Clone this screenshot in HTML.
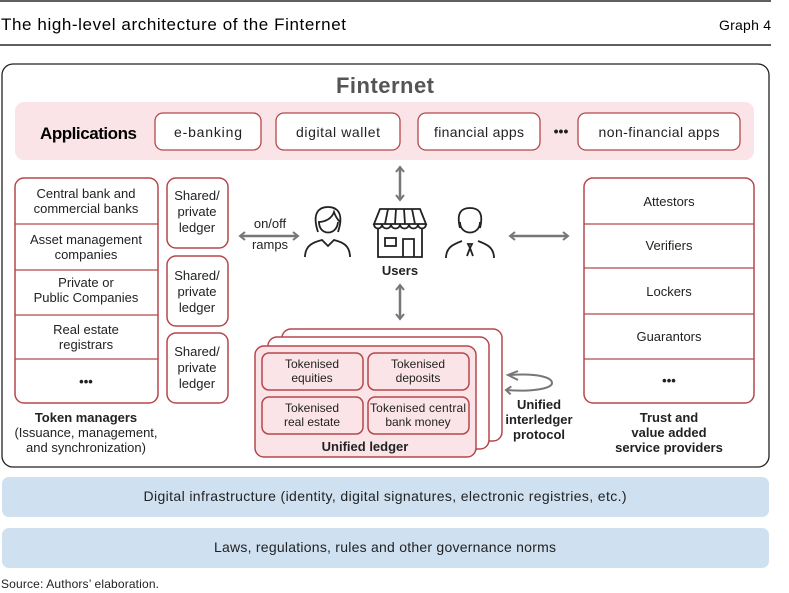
<!DOCTYPE html>
<html><head><meta charset="utf-8"><style>
body{margin:0;background:#fff}
svg{display:block;font-family:"Liberation Sans",sans-serif}
</style></head><body>
<svg width="789" height="593" viewBox="0 0 789 593" xmlns="http://www.w3.org/2000/svg">
<defs>
<marker id="ah" markerWidth="8" markerHeight="10" refX="6" refY="5" orient="auto-start-reverse" markerUnits="userSpaceOnUse">
<path d="M1,1 L6,5 L1,9" fill="none" stroke="#777" stroke-width="2"/>
</marker>
</defs>
<line x1="0" y1="1" x2="771" y2="1" stroke="#000" stroke-width="1.2"/>
<line x1="0" y1="45" x2="771" y2="45" stroke="#000" stroke-width="1.2"/>
<text x="1" y="30" font-size="17" fill="#000" textLength="345">The high-level architecture of the Finternet</text>
<text x="771" y="30" font-size="14" text-anchor="end" textLength="52">Graph 4</text>

<rect x="2" y="64" width="767" height="403" rx="11" fill="#fff" stroke="#222" stroke-width="1.3"/>
<text x="385" y="93" font-size="22" fill="#555" text-anchor="middle" font-weight="bold" textLength="98">Finternet</text>

<rect x="15" y="102" width="739" height="58" rx="9" fill="#fbe4e7"/>
<text x="40" y="139" font-size="17" font-weight="bold" textLength="97">Applications</text>
<g fill="#fff" stroke="#b5474c" stroke-width="1.3">
<rect x="155" y="113" width="106" height="37" rx="8"/>
<rect x="276" y="113" width="124" height="37" rx="8"/>
<rect x="418" y="113" width="122" height="37" rx="8"/>
<rect x="578" y="113" width="162" height="37" rx="8"/>
</g>
<g font-size="14" text-anchor="middle" fill="#222">
<text x="208" y="137" textLength="68">e-banking</text>
<text x="338" y="137" textLength="84">digital wallet</text>
<text x="479" y="137" textLength="90">financial apps</text>
<text x="659" y="137" textLength="121">non-financial apps</text>
<text x="561" y="136" font-weight="bold">•••</text>
</g>

<!-- left stack -->
<rect x="15" y="178" width="143" height="225" rx="9" fill="#fff" stroke="#b5474c" stroke-width="1.5"/>
<g stroke="#b5474c" stroke-width="1.3"><line x1="15" y1="224" x2="158" y2="224"/><line x1="15" y1="270" x2="158" y2="270"/><line x1="15" y1="315" x2="158" y2="315"/><line x1="15" y1="359" x2="158" y2="359"/></g>
<g font-size="13" text-anchor="middle" fill="#222">
<text x="86" y="198">Central bank and</text><text x="86" y="213">commercial banks</text>
<text x="86" y="244">Asset management</text><text x="86" y="259">companies</text>
<text x="86" y="287">Private or</text><text x="86" y="302">Public Companies</text>
<text x="86" y="334">Real estate</text><text x="86" y="349">registrars</text>
<text x="86" y="386" font-weight="bold">•••</text>
<text x="86" y="422" font-weight="bold">Token managers</text>
<text x="86" y="437">(Issuance, management,</text>
<text x="86" y="452">and synchronization)</text>
</g>
<g fill="#fff" stroke="#b5474c" stroke-width="1.5">
<rect x="167" y="178" width="61" height="70" rx="9"/>
<rect x="167" y="256" width="61" height="70" rx="9"/>
<rect x="167" y="333" width="61" height="70" rx="9"/>
</g>
<g font-size="13" text-anchor="middle" fill="#222">
<text x="197" y="200">Shared/</text><text x="197" y="216">private</text><text x="197" y="232">ledger</text>
<text x="197" y="280">Shared/</text><text x="197" y="296">private</text><text x="197" y="312">ledger</text>
<text x="197" y="356">Shared/</text><text x="197" y="372">private</text><text x="197" y="388">ledger</text>
</g>

<!-- arrows -->
<g stroke="#777" stroke-width="2.5" fill="none" marker-start="url(#ah)" marker-end="url(#ah)">
<line x1="240" y1="236" x2="298" y2="236"/>
<line x1="510" y1="236" x2="568" y2="236"/>
<line x1="400" y1="167" x2="400" y2="200"/>
<line x1="400" y1="285" x2="400" y2="319"/>
</g>
<g font-size="13" text-anchor="middle" fill="#222">
<text x="270" y="228">on/off</text><text x="270" y="249">ramps</text>
<text x="400" y="275" font-weight="bold">Users</text>
</g>

<!-- woman -->
<g fill="none" stroke="#222" stroke-width="1.8">
<path d="M318,232 C312,214 318,207 328,207 C338,207 344,214 338,232"/>
<path d="M318,222 C326,222 332,218 334,212 C336,218 339,221 340,222"/>
<path d="M319,222 C319,236 337,236 338,222"/>
<path d="M305,257 C305,245 314,242 322,240 L328,246 L334,240 C342,242 350,245 350,257"/>
</g>
<!-- shop -->
<g fill="none" stroke="#222" stroke-width="1.8">
<path d="M380,209 L420,209 L426,224 L374,224 Z"/>
<path d="M374,224 C374,230 382,230 382,224 C382,230 391,230 391,224 C391,230 400,230 400,224 C400,230 409,230 409,224 C409,230 418,230 418,224 C418,230 426,230 426,224"/>
<path d="M388,209 L385,224 M396,209 L395,224 M404,209 L405,224 M412,209 L415,224"/>
<path d="M378,229 L378,257 L422,257 L422,229"/>
<rect x="385" y="238" width="11" height="8"/>
<path d="M403,257 L403,239 L414,239 L414,257"/>
</g>
<!-- man -->
<g fill="none" stroke="#222" stroke-width="1.8">
<path d="M460,228 C456,212 462,208 470,208 C478,208 484,212 480,228"/>
<path d="M460,222 C460,236 480,236 480,222"/>
<path d="M446,258 C446,247 454,244 462,241 M494,258 C494,247 486,244 478,241"/>
<path d="M468,244 L472,244 L470,248 Z M470,248 L467,256 M470,248 L473,256"/>
</g>

<!-- ledger stack -->
<g fill="#fff" stroke="#b5474c" stroke-width="1.5">
<rect x="282" y="329" width="220" height="112" rx="9"/>
<rect x="268" y="337" width="221" height="112" rx="9"/>
<rect x="255" y="346" width="221" height="111" rx="9" fill="#fbe4e7"/>
<rect x="262" y="353" width="101" height="37" rx="7" fill="#fbe4e7"/>
<rect x="368" y="353" width="101" height="37" rx="7" fill="#fbe4e7"/>
<rect x="262" y="397" width="101" height="37" rx="7" fill="#fbe4e7"/>
<rect x="368" y="397" width="101" height="37" rx="7" fill="#fbe4e7"/>
</g>
<g font-size="12" text-anchor="middle" fill="#222">
<text x="312" y="368">Tokenised</text><text x="312" y="382">equities</text>
<text x="418" y="368">Tokenised</text><text x="418" y="382">deposits</text>
<text x="312" y="412">Tokenised</text><text x="312" y="426">real estate</text>
<text x="418" y="412" textLength="96">Tokenised central</text><text x="418" y="426">bank money</text>
<text x="365" y="451" font-size="13" font-weight="bold">Unified ledger</text>
</g>
<path d="M510,375 C540,373 552,378 552,383 C552,389 530,392 506,390" fill="none" stroke="#777" stroke-width="2" marker-end="url(#ah)"/>
<path d="M518,371 L508,375 L518,380" fill="none" stroke="#777" stroke-width="2"/>
<g font-size="13" text-anchor="middle" fill="#222" font-weight="bold">
<text x="539" y="409">Unified</text><text x="539" y="424">interledger</text><text x="539" y="439">protocol</text>
</g>

<!-- right stack -->
<rect x="584" y="178" width="170" height="225" rx="9" fill="#fff" stroke="#b5474c" stroke-width="1.5"/>
<g stroke="#b5474c" stroke-width="1.3"><line x1="584" y1="224" x2="754" y2="224"/><line x1="584" y1="268" x2="754" y2="268"/><line x1="584" y1="314" x2="754" y2="314"/><line x1="584" y1="359" x2="754" y2="359"/></g>
<g font-size="13" text-anchor="middle" fill="#222">
<text x="669" y="206">Attestors</text>
<text x="669" y="250">Verifiers</text>
<text x="669" y="296">Lockers</text>
<text x="669" y="341">Guarantors</text>
<text x="669" y="385" font-weight="bold">•••</text>
<g font-weight="bold"><text x="669" y="422">Trust and</text><text x="669" y="437">value added</text><text x="669" y="452">service providers</text></g>
</g>

<rect x="2" y="477" width="767" height="40" rx="7" fill="#cfe0f0"/>
<rect x="2" y="528" width="767" height="40" rx="7" fill="#cfe0f0"/>
<g font-size="14" text-anchor="middle" fill="#222">
<text x="385" y="501" textLength="483">Digital infrastructure  (identity, digital signatures, electronic registries, etc.)</text>
<text x="385" y="552" textLength="342">Laws, regulations, rules and other governance norms</text>
</g>
<text x="1" y="588" font-size="12" fill="#222" textLength="158">Source: Authors’ elaboration.</text>
</svg>
</body></html>
